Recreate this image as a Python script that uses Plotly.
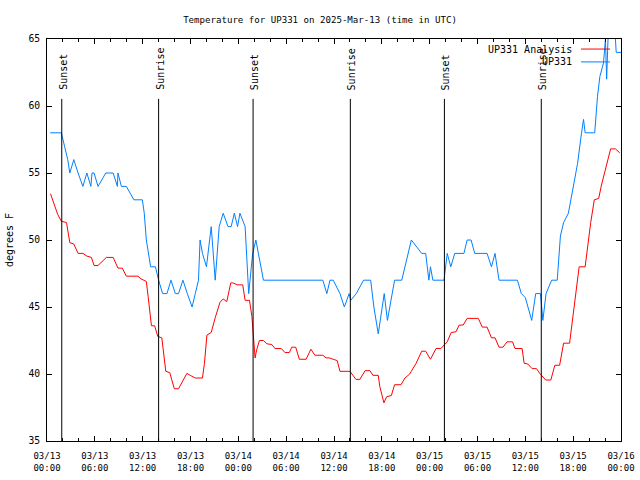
import pandas as pd
import plotly.graph_objects as go

# ---- data (hours since 2025-03-13 00:00 UTC) ----
obs_hours = [0.4, 1.8, 2.2, 2.6, 2.86, 3.36, 3.9, 4.5, 5.0, 5.5, 5.65, 5.9, 6.4, 7.37, 8.3, 8.83, 8.9,
             9.33, 9.95, 10.9, 11.96, 12.2, 12.46, 12.7, 13.0, 13.6, 14.0, 14.5, 15.05, 15.55, 16.1,
             16.5, 17.05, 17.6, 18.2, 18.6, 19.0, 19.2, 19.5, 20.0, 20.6, 21.1, 21.6, 22.1, 22.7,
             23.1, 23.5, 23.9, 24.2, 24.85, 25.3, 25.8, 26.2, 27.15, 34.6, 35.1, 35.5, 35.9, 36.75,
             37.3, 37.9, 38.1, 38.8, 39.7, 40.6, 41.0, 41.55, 42.3, 42.7, 43.6, 44.5, 45.7, 47.0,
             47.5, 47.9, 48.1, 48.4, 49.8, 50.2, 50.65, 51.15, 52.3, 52.7, 53.2, 53.65, 55.2, 55.75,
             56.2, 56.7, 59.0, 59.5, 60.0, 60.8, 61.3, 61.9, 62.2, 62.6, 63.3, 64.0, 64.4, 64.8,
             65.4, 66.0, 66.55, 67.05, 67.3, 67.5, 68.7, 69.05, 69.35, 69.8, 70.05, 70.2, 70.4,
             70.7, 71.2, 71.4, 72.0]
obs_temp = [58, 58, 57, 56, 55, 56, 55, 54, 55, 54, 55, 55, 54, 55, 55, 54, 55,
            54, 54, 53, 53, 52, 50, 49, 48, 48, 47, 46, 46, 47, 46,
            46, 47, 46, 45, 46, 47, 50, 49, 48, 51, 47, 51, 52, 51,
            51, 52, 51, 52, 51, 46, 49, 50, 47, 47, 46, 47, 47, 46,
            45, 46, 45.5, 46, 47, 47, 45, 43, 46, 44, 47, 47, 50, 49,
            49, 47, 48, 47, 47, 49, 48, 49, 49, 50, 50, 49, 49, 48,
            49, 47, 47, 46, 45.7, 44, 46, 46, 44, 46, 47, 47, 50.3, 51.3,
            52, 54, 55.7, 58, 59, 58, 58, 60.7, 62.2, 63.2, 65, 62, 65.5,
            66, 66, 64, 64]

ana_hours = [0.44, 1.0, 1.35, 1.8, 2.45, 2.86, 3.36, 3.9, 4.5, 5.0, 5.57, 5.9, 6.4, 7.45, 8.3, 8.9,
             9.45, 9.95, 11.4, 11.8, 12.46, 12.7, 12.96, 13.1, 13.5, 13.9, 14.4, 14.9, 15.4, 15.97,
             16.5, 17.55, 17.95, 18.6, 19.5, 19.75, 20.06, 20.6, 21.1, 21.7, 22.1, 22.55, 23.05,
             23.3, 23.9, 24.55, 24.85, 25.4, 25.7, 25.85, 26.1, 26.3, 26.65, 27.15, 27.6, 28.2,
             28.6, 29.4, 29.85, 30.4, 30.7, 31.2, 31.65, 32.5, 33.1, 33.6, 34.6, 35.0, 35.4, 35.9,
             36.4, 36.75, 38.0, 38.75, 39.25, 39.9, 40.5, 40.9, 41.55, 41.75, 42.26, 42.6, 43.2,
             43.6, 44.4, 44.9, 45.5, 45.7, 46.3, 47.0, 47.5, 48.1, 48.8, 49.4, 49.9, 50.2, 50.7,
             51.3, 51.7, 52.2, 52.7, 54.1, 54.6, 55.2, 55.75, 56.2, 56.7, 57.2, 57.7, 58.4, 58.7,
             59.6, 59.85, 60.3, 60.85, 61.4, 61.8, 62.0, 62.55, 63.2, 63.7, 64.3, 64.8, 65.55,
             65.9, 66.25, 66.45, 66.75, 67.5, 67.75, 68.0, 68.2, 68.65, 69.2, 69.55, 70.0, 70.3,
             70.7, 71.3, 71.85]
ana_temp = [53.45, 52.4, 51.9, 51.4, 51.3, 49.8, 49.7, 49.0, 49.0, 48.8, 48.7, 48.1, 48.1, 48.7, 48.7, 47.9,
            47.9, 47.3, 47.3, 47.1, 46.9, 45.7, 44.0, 43.6, 43.6, 42.8, 42.7, 40.2, 40.1, 38.9,
            38.9, 40.05, 39.9, 39.7, 39.7, 40.8, 42.9, 43.1, 44.2, 45.35, 45.6, 45.4, 46.8,
            46.8, 46.65, 46.65, 45.5, 45.5, 44.3, 43.0, 41.2, 41.8, 42.5, 42.5, 42.25, 42.2,
            41.9, 41.9, 41.6, 41.6, 42.0, 42.0, 41.1, 41.1, 41.85, 41.4, 41.4, 41.2, 41.2, 41.1,
            41.0, 40.2, 40.2, 39.6, 39.6, 40.25, 40.25, 39.9, 39.9, 39.05, 37.85, 38.3, 38.4,
            39.2, 39.2, 39.7, 40.0, 40.2, 40.8, 41.7, 41.7, 41.1, 41.9, 41.9, 42.2, 42.4, 43.1,
            43.15, 43.65, 43.65, 44.15, 44.15, 43.5, 43.5, 42.7, 42.7, 42.0, 42.0, 42.4, 42.4, 41.9,
            41.9, 40.8, 40.75, 40.4, 40.4, 40.05, 39.9, 39.55, 39.55, 40.65, 40.65, 42.3, 42.3,
            44.0, 45.3, 46.65, 48.0, 48.0, 49.3, 50.3, 51.3, 53.0, 53.1, 54.1, 55.2, 55.9,
            56.8, 56.8, 56.5]

sun_events = ["Sunset", "Sunrise", "Sunset", "Sunrise", "Sunset", "Sunrise"]
sun_hours = [1.85, 14.0, 25.85, 38.05, 49.85, 62.0]

series_names = ["UP331 Analysis", "UP331"]
series_colors = ["#ff0000", "#0080ff"]

base = pd.Timestamp("2025-03-13 00:00")
to_t = lambda hrs: [base + pd.Timedelta(hours=h) for h in hrs]

FONT = "DejaVu Sans Mono"

fig = go.Figure()
fig.add_trace(go.Scatter(x=to_t(ana_hours), y=ana_temp, mode="lines", name=series_names[0],
                         line=dict(color=series_colors[0], width=1), showlegend=False))
fig.add_trace(go.Scatter(x=to_t(obs_hours), y=obs_temp, mode="lines", name=series_names[1],
                         line=dict(color=series_colors[1], width=1), showlegend=False))

shapes = []
annotations = []
for name, h in zip(sun_events, sun_hours):
    t = base + pd.Timedelta(hours=h)
    shapes.append(dict(type="line", xref="x", yref="paper", x0=t, x1=t, y0=0, y1=0.851,
                       line=dict(color="black", width=1)))
    annotations.append(dict(x=t, y=0.868, xref="x", yref="paper", text=name, textangle=-90,
                            showarrow=False, xanchor="center", yanchor="bottom", xshift=1,
                            font=dict(family=FONT, size=10, color="black")))

# gnuplot-style key: text right-aligned, line sample on the right
key_y = [0.975, 0.943]
for name, col, ky in zip(series_names, series_colors, key_y):
    annotations.append(dict(x=0.918, y=ky, xref="paper", yref="paper", text=name, showarrow=False,
                            xanchor="right", yanchor="middle",
                            font=dict(family=FONT, size=10, color="black")))
    shapes.append(dict(type="line", xref="paper", yref="paper", x0=0.9304, x1=0.9809, y0=ky, y1=ky,
                       line=dict(color=col, width=1)))

fig.update_layout(
    width=640, height=480,
    margin=dict(l=47, r=19, t=39, b=39, autoexpand=False),
    paper_bgcolor="white", plot_bgcolor="white",
    title=dict(text="Temperature for UP331 on 2025-Mar-13 (time in UTC)", x=0.5, xanchor="center",
               y=1 - 20 / 480, yanchor="middle", font=dict(family=FONT, size=9.1, color="black")),
    shapes=shapes, annotations=annotations,
    font=dict(family=FONT, color="black"),
)
fig.update_xaxes(
    type="date", range=[base, base + pd.Timedelta(hours=72)], automargin=False,
    dtick=6 * 3600 * 1000, tick0=base, tickformat="%m/%d<br>%H:%M",
    ticks="inside", ticklen=5, tickcolor="black", ticklabelstandoff=6,
    minor=dict(dtick=2 * 3600 * 1000, ticks="inside", ticklen=3, tickcolor="black"),
    showline=True, linecolor="black", linewidth=1, mirror="ticks",
    showgrid=False, zeroline=False, tickfont=dict(family=FONT, size=9, color="black"),
)
fig.update_yaxes(
    range=[35, 65], dtick=5, ticks="inside", ticklen=5, tickcolor="black", automargin=False,
    ticklabelstandoff=4,
    showline=True, linecolor="black", linewidth=1, mirror="ticks",
    showgrid=False, zeroline=False, tickfont=dict(family=FONT, size=9.7, color="black"),
    title=dict(text="degrees F", font=dict(family=FONT, size=10, color="black"), standoff=12),
)

fig.write_html("out.html", config={"displayModeBar": False},
               post_script="document.body.style.margin='0px';")
